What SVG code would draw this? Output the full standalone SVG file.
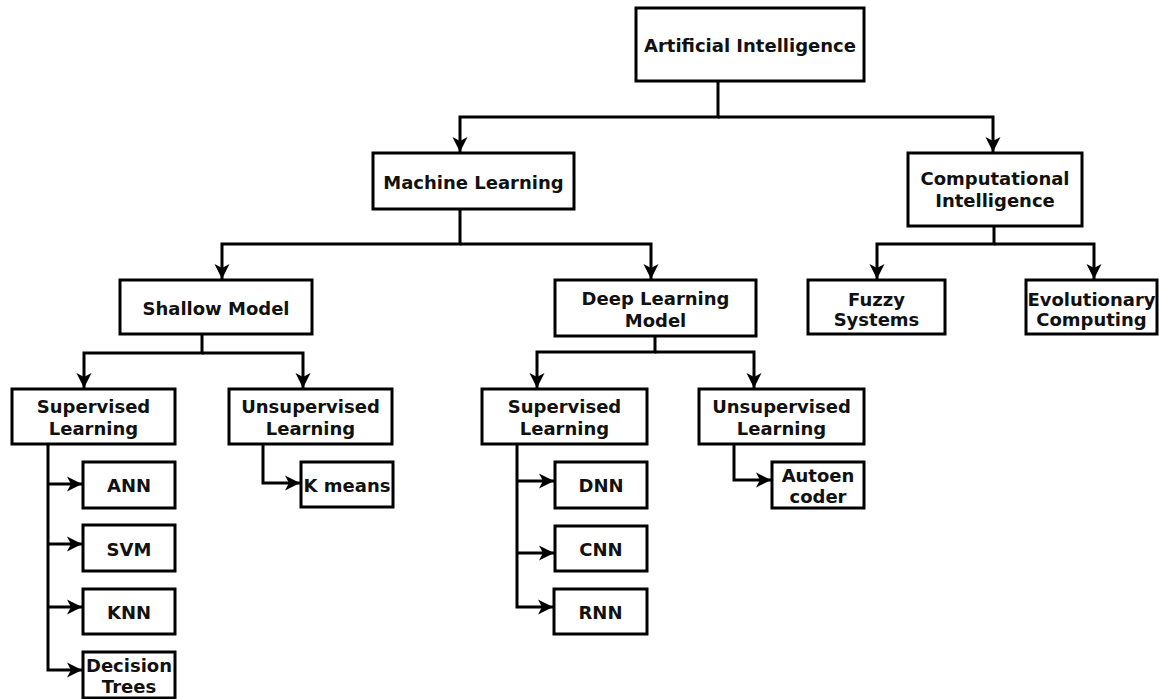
<svg xmlns="http://www.w3.org/2000/svg" width="1159" height="699" viewBox="0 0 1159 699">
<style>
rect.n{fill:#fff;stroke:#000;stroke-width:3}
text{font-family:"DejaVu Sans","Verdana",sans-serif;font-weight:bold;font-size:18px;fill:#111;text-anchor:middle}
.c path{fill:none;stroke:#000;stroke-width:3;marker-end:url(#ah)}
</style>
<defs>
<marker id="ah" viewBox="0 0 16 16" refX="15" refY="8" markerWidth="16" markerHeight="16" markerUnits="userSpaceOnUse" orient="auto">
<path d="M0,0.5 L15,8 L0,15.5 L4,8 z" fill="#000"/>
</marker>
</defs>
<rect width="1159" height="699" fill="#fff"/>
<g class="c" id="connectors">
<path d="M718,81 V117 H460 V152"/>
<path d="M718,117 H993 V152"/>
<path d="M460,209 V244 H222 V279"/>
<path d="M460,244 H651 V279"/>
<path d="M994,226 V244 H877 V279"/>
<path d="M994,244 H1094 V279"/>
<path d="M202,334 V353 H84 V388"/>
<path d="M202,353 H303 V388"/>
<path d="M655,336 V352 H537 V388"/>
<path d="M655,352 H754 V388"/>
<path d="M48,444 V670 H82"/>
<path d="M48,484 H82"/>
<path d="M48,544 H82"/>
<path d="M48,607 H82"/>
<path d="M263,444 V483 H300"/>
<path d="M517,444 V607 H553"/>
<path d="M517,481 H554"/>
<path d="M517,553 H554"/>
<path d="M734,444 V480 H771"/>
</g>
<g id="n-ai"><rect class="n" x="636" y="8" width="228" height="73"/><text x="750" y="52">Artificial Intelligence</text></g>
<g id="n-ml"><rect class="n" x="373" y="153" width="201" height="56"/><text x="473.5" y="189">Machine Learning</text></g>
<g id="n-ci"><rect class="n" x="908" y="153" width="174" height="73"/><text x="995" y="185">Computational</text><text x="995" y="207">Intelligence</text></g>
<g id="n-sm"><rect class="n" x="120" y="280" width="192" height="54"/><text x="216" y="315">Shallow Model</text></g>
<g id="n-dlm"><rect class="n" x="555" y="280" width="201" height="56"/><text x="655.5" y="305">Deep Learning</text><text x="655.5" y="327">Model</text></g>
<g id="n-fuzzy"><rect class="n" x="808" y="280" width="137" height="54"/><text x="876.5" y="306">Fuzzy</text><text x="876.5" y="326">Systems</text></g>
<g id="n-evo"><rect class="n" x="1026" y="280" width="131" height="54"/><text x="1091.5" y="306">Evolutionary</text><text x="1091.5" y="326">Computing</text></g>
<g id="n-sl1"><rect class="n" x="12" y="389" width="163" height="55"/><text x="93.5" y="413">Supervised</text><text x="93.5" y="435">Learning</text></g>
<g id="n-ul1"><rect class="n" x="229" y="389" width="163" height="55"/><text x="310.5" y="413">Unsupervised</text><text x="310.5" y="435">Learning</text></g>
<g id="n-sl2"><rect class="n" x="482" y="389" width="165" height="55"/><text x="564.5" y="413">Supervised</text><text x="564.5" y="435">Learning</text></g>
<g id="n-ul2"><rect class="n" x="699" y="389" width="165" height="55"/><text x="781.5" y="413">Unsupervised</text><text x="781.5" y="435">Learning</text></g>
<g id="n-ann"><rect class="n" x="83" y="462" width="92" height="46"/><text x="129" y="492">ANN</text></g>
<g id="n-svm"><rect class="n" x="83" y="525" width="92" height="46"/><text x="129" y="556">SVM</text></g>
<g id="n-knn"><rect class="n" x="83" y="589" width="92" height="45"/><text x="129" y="619">KNN</text></g>
<g id="n-dt"><rect class="n" x="83" y="652" width="92" height="46"/><text x="129" y="672">Decision</text><text x="129" y="693">Trees</text></g>
<g id="n-km"><rect class="n" x="301" y="462" width="92" height="45"/><text x="347" y="492">K means</text></g>
<g id="n-dnn"><rect class="n" x="555" y="462" width="92" height="46"/><text x="601" y="492">DNN</text></g>
<g id="n-cnn"><rect class="n" x="555" y="526" width="92" height="45"/><text x="601" y="556">CNN</text></g>
<g id="n-rnn"><rect class="n" x="554" y="589" width="93" height="45"/><text x="600.5" y="619">RNN</text></g>
<g id="n-ae"><rect class="n" x="772" y="462" width="92" height="46"/><text x="818" y="482">Autoen</text><text x="818" y="503">coder</text></g>
</svg>
